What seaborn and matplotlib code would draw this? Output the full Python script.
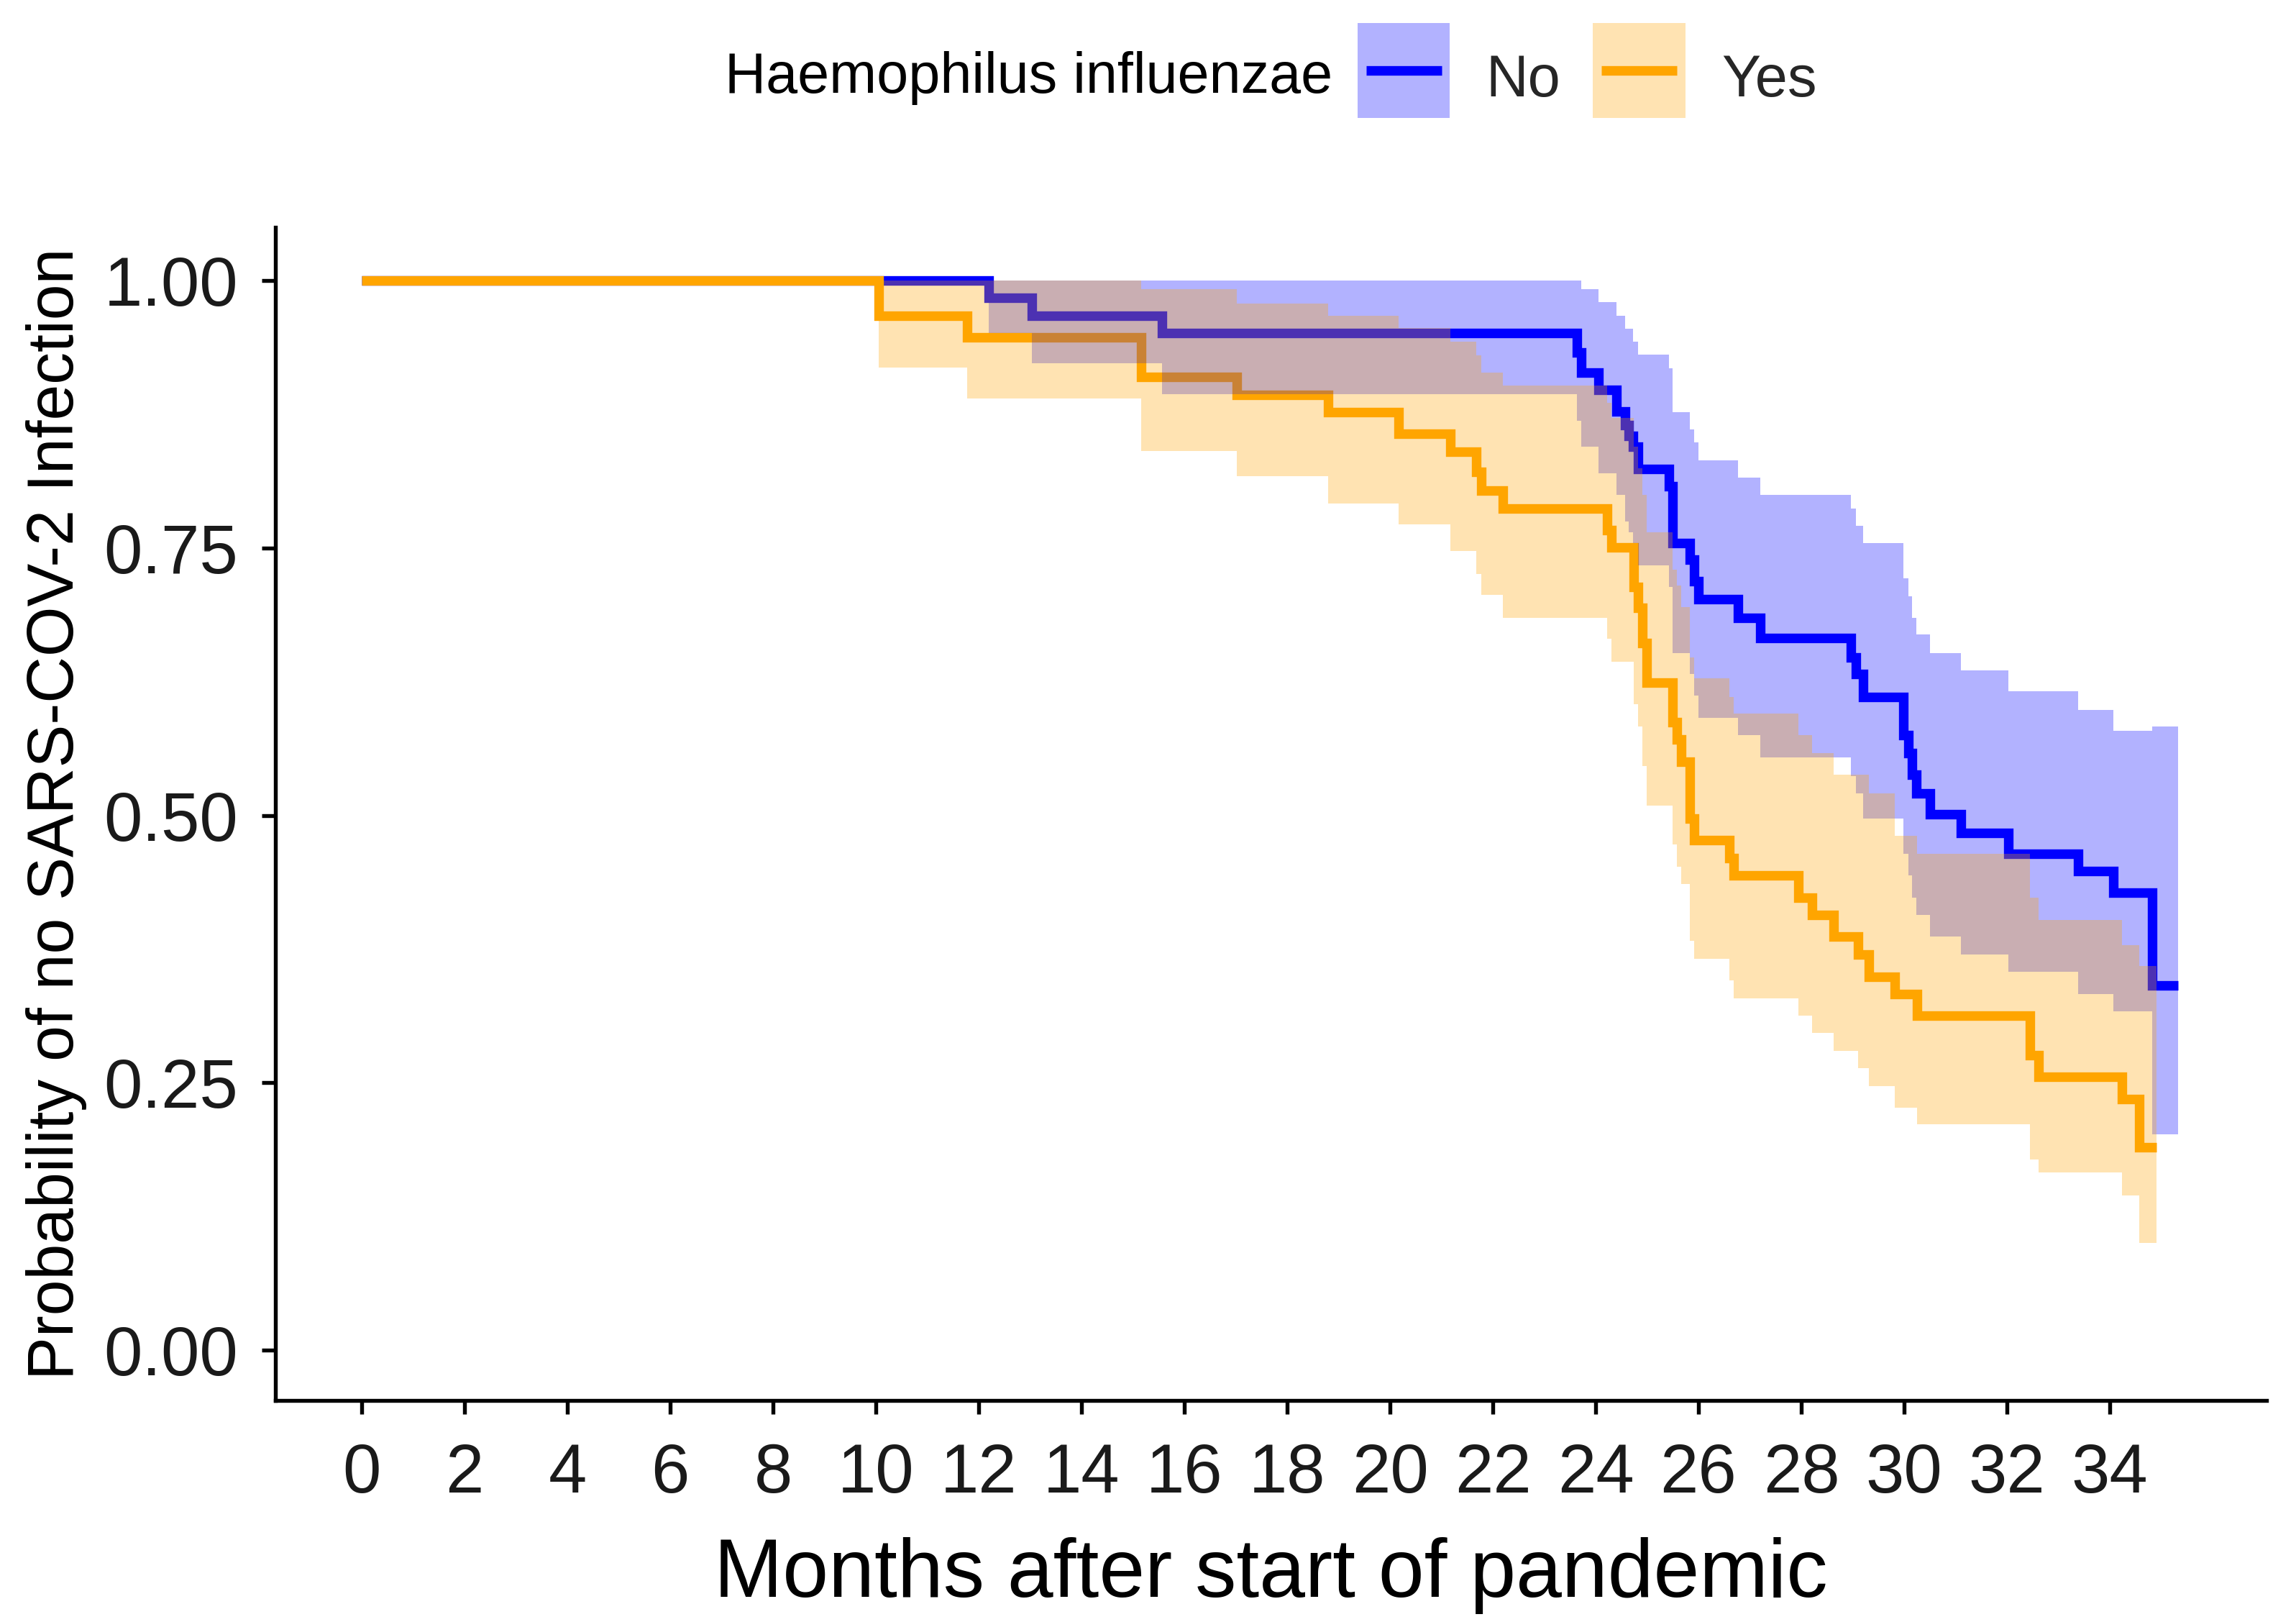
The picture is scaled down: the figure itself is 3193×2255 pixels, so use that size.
import numpy as np
import pandas as pd
import matplotlib
matplotlib.use("Agg")
import matplotlib.pyplot as plt
import seaborn as sns
from matplotlib.patches import Patch, Rectangle
from matplotlib.lines import Line2D
from matplotlib.legend_handler import HandlerBase

# ---------------- data ----------------
groups = ["No", "Yes"]
legend_title = "Haemophilus influenzae"
x_label = "Months after start of pandemic"
y_label = "Probability of no SARS-COV-2 Infection"
x_ticks = list(range(0, 35, 2))
y_ticks = [0.0, 0.25, 0.5, 0.75, 1.0]
y_tick_labels = ["0.00", "0.25", "0.50", "0.75", "1.00"]

no_time = [0, 12.19, 13.04, 15.57, 23.63, 23.72, 24.05, 24.40, 24.57, 24.65,
           24.73, 24.82, 25.42, 25.50, 25.83, 25.92, 26.00, 26.77, 27.20, 28.97,
           29.06, 29.20, 29.99, 30.08, 30.16, 30.24, 30.50, 31.10, 32.03, 33.38,
           34.07, 34.83, 35.33]
no_surv = [1, 0.984, 0.967, 0.951, 0.933, 0.914, 0.898, 0.878, 0.865, 0.855,
           0.845, 0.824, 0.808, 0.755, 0.739, 0.719, 0.702, 0.685, 0.666, 0.648,
           0.632, 0.611, 0.575, 0.558, 0.538, 0.521, 0.501, 0.484, 0.464, 0.448,
           0.428, 0.341, 0.341]
no_upper = [1, 1, 1, 1, 1, 0.992, 0.980, 0.967, 0.955, 0.955,
            0.943, 0.931, 0.918, 0.877, 0.861, 0.849, 0.832, 0.816, 0.800, 0.787,
            0.771, 0.755, 0.722, 0.705, 0.685, 0.669, 0.652, 0.636, 0.616, 0.599,
            0.579, 0.583, 0.583]
no_lower = [1, 0.951, 0.923, 0.894, 0.869, 0.845, 0.820, 0.800, 0.775, 0.765,
            0.755, 0.734, 0.714, 0.652, 0.632, 0.612, 0.591, 0.575, 0.554, 0.537,
            0.521, 0.497, 0.464, 0.444, 0.423, 0.407, 0.387, 0.370, 0.354, 0.333,
            0.317, 0.202, 0.202]

yes_time = [0, 10.06, 11.77, 15.16, 17.02, 18.80, 20.17, 21.18, 21.68, 21.77,
            22.19, 24.22, 24.31, 24.74, 24.82, 24.91, 24.99, 25.50, 25.58, 25.67,
            25.83, 25.91, 26.60, 26.68, 27.95, 28.21, 28.63, 29.10, 29.31, 29.82,
            30.25, 32.45, 32.62, 34.24, 34.57, 34.91]
yes_surv = [1, 0.967, 0.947, 0.910, 0.893, 0.877, 0.857, 0.840, 0.821, 0.804,
            0.787, 0.767, 0.7505, 0.714, 0.694, 0.661, 0.624, 0.587, 0.571, 0.550,
            0.497, 0.477, 0.460, 0.444, 0.423, 0.407, 0.387, 0.370, 0.349, 0.333,
            0.313, 0.276, 0.256, 0.235, 0.190, 0.190]
yes_upper = [1, 1, 1, 0.992, 0.979, 0.967, 0.956, 0.943, 0.930, 0.914,
             0.902, 0.886, 0.872, 0.845, 0.825, 0.800, 0.765, 0.730, 0.715, 0.695,
             0.648, 0.628, 0.611, 0.595, 0.575, 0.558, 0.538, 0.538, 0.521, 0.481,
             0.464, 0.423, 0.402, 0.379, 0.359, 0.359]
yes_lower = [1, 0.919, 0.890, 0.841, 0.817, 0.792, 0.772, 0.747, 0.726, 0.706,
             0.685, 0.665, 0.644, 0.604, 0.583, 0.546, 0.509, 0.473, 0.452, 0.436,
             0.383, 0.366, 0.346, 0.329, 0.313, 0.297, 0.280, 0.264, 0.247, 0.227,
             0.211, 0.178, 0.166, 0.145, 0.100, 0.100]

palette = {"No": "#0000FF", "Yes": "#FFA500"}

# ---------------- style ----------------
sns.set_style("ticks")
plt.rcParams["font.family"] = ["Liberation Sans", "DejaVu Sans"]

W, H = 3193, 2255
DPI = 300
fig = plt.figure(figsize=(W / DPI, H / DPI), dpi=DPI)
ax = fig.add_axes([383 / W, 1 - 1947 / H, (3152 - 383) / W, (1947 - 316) / H])

rows = []
for g, t, s in [("No", no_time, no_surv), ("Yes", yes_time, yes_surv)]:
    for ti, si in zip(t, s):
        rows.append((g, ti, si))
df = pd.DataFrame(rows, columns=["group", "time", "surv"])

LW = 3.2
sns.lineplot(data=df, x="time", y="surv", hue="group", hue_order=groups,
             palette=palette, drawstyle="steps-post", estimator=None, sort=False,
             linewidth=LW, legend=False, ax=ax, zorder=2,
             solid_capstyle="butt", solid_joinstyle="miter")

# confidence ribbons drawn over the lines (as in the original)
for g, t, lo, up in [("No", no_time, no_lower, no_upper),
                     ("Yes", yes_time, yes_lower, yes_upper)]:
    ax.fill_between(t, lo, up, step="post", color=palette[g], alpha=0.3,
                    linewidth=0, zorder=3)

ax.set_xlim(-1.68, 37.05)
ax.set_ylim(-0.047, 1.05)
ax.set_xticks(x_ticks)
ax.set_xticklabels([str(v) for v in x_ticks])
ax.set_yticks(y_ticks)
ax.set_yticklabels(y_tick_labels)

sns.despine(ax=ax)
for sp in ["left", "bottom"]:
    ax.spines[sp].set_linewidth(1.3)
    ax.spines[sp].set_color("black")
ax.tick_params(axis="both", length=4.5, width=1.3, color="black",
               labelsize=23, labelcolor="#1a1a1a")
ax.tick_params(axis="x", pad=9.5)
ax.tick_params(axis="y", pad=8)

ax.set_xlabel(x_label, fontsize=27.5, color="black", labelpad=10)
ax.set_ylabel(y_label, fontsize=21.5, color="black", labelpad=5.5)


# ---------------- legend ----------------
class KeyHandler(HandlerBase):
    """Ribbon-coloured box with the step line across it (ggplot style key)."""

    def __init__(self, dy=0.0, inset=0.09):
        super().__init__()
        self.dy = dy
        self.inset = inset

    def create_artists(self, legend, orig_handle, xdescent, ydescent,
                       width, height, fontsize, trans):
        patch, line = orig_handle
        x0 = -xdescent
        y0 = -ydescent + self.dy
        rect = Rectangle((x0, y0), width, height,
                         facecolor=patch.get_facecolor(), edgecolor="none",
                         transform=trans)
        ln = Line2D([x0 + self.inset * width, x0 + (1 - self.inset) * width],
                    [y0 + height / 2, y0 + height / 2],
                    color=line.get_color(), linewidth=line.get_linewidth(),
                    solid_capstyle="butt", transform=trans)
        return [rect, ln]


fig.text(1853 / W, 1 - 108 / H, legend_title, ha="right", va="center",
         fontsize=19, color="black")
handles = [(Patch(facecolor=palette[g], alpha=0.3, edgecolor="none"),
            Line2D([], [], color=palette[g], linewidth=LW))
           for g in groups]
DY = 2.4  # points: lift keys relative to the labels
fig.legend(handles, groups, loc="center left",
           bbox_to_anchor=(1888 / W, 1 - 108 / H), ncol=2, frameon=False,
           borderpad=0, borderaxespad=0, handlelength=1.58, handleheight=2.12,
           handletextpad=0.62, columnspacing=0.55, fontsize=19.5,
           handler_map={tuple: KeyHandler(dy=DY)})

fig.savefig("out.png", dpi=DPI)
